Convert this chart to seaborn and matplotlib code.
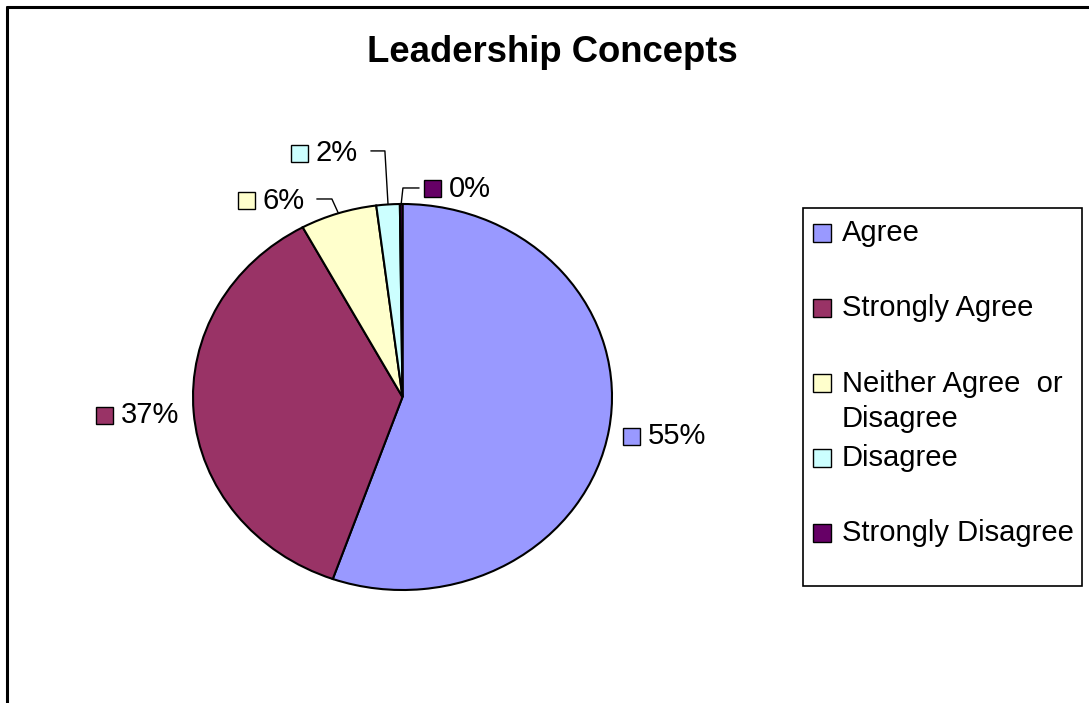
import matplotlib
matplotlib.use("Agg")
import numpy as np
import matplotlib.pyplot as plt
import seaborn as sns
from matplotlib.patches import Rectangle
from matplotlib.lines import Line2D
from matplotlib.offsetbox import AnnotationBbox, HPacker, TextArea, DrawingArea

# data
title = "Leadership Concepts"
categories = ["Agree", "Strongly Agree", "Neither Agree  or\nDisagree", "Disagree", "Strongly Disagree"]
shares = [55.4, 36.7, 5.9, 1.8, 0.2]
colors = ["#9999FF", "#993366", "#FFFFCC", "#CCFFFF", "#660066"]

sns.set_theme(style="white")
plt.rcParams["font.family"] = ["Liberation Sans", "DejaVu Sans"]
plt.rcParams["text.color"] = "black"

W, H = 1089, 703
fig = plt.figure(figsize=(W / 100, H / 100), dpi=100, facecolor="white")


def fx(px):
    return px / W


def fy(py):
    return 1 - py / H


# pie is slightly elliptical, like the Excel original
cx, cy, rx, ry = 402.5, 397, 209.5, 193
ax = fig.add_axes([fx(cx - rx), fy(cy + ry), 2 * rx / W, 2 * ry / H])
palette = sns.color_palette(colors)
wedges, _ = ax.pie(shares, colors=palette, startangle=90, counterclock=False,
                   wedgeprops=dict(edgecolor="black", linewidth=1.5))
ax.set_aspect("auto")
ax.set_xlim(-1, 1)
ax.set_ylim(-1, 1)
ax.axis("off")

# percentage labels (square marker + text)
pct_labels = [f"{round(s):.0f}%" for s in shares]
sq = 12.2  # points
manual_pos = {2: (-0.466, 1.016, "right"), 3: (-0.212, 1.264, "right"), 4: (0.103, 1.078, "left")}
leader_elbows = {2: [(-0.409, 1.026), (-0.337, 1.026)],
                 3: [(-0.151, 1.275), (-0.084, 1.275)],
                 4: [(0.079, 1.083), (0.002, 1.083)]}

for i, w in enumerate(wedges):
    mid = np.deg2rad((w.theta1 + w.theta2) / 2)
    if i in manual_pos:
        x, y, side = manual_pos[i]
        ex, ey = np.cos(mid), np.sin(mid)
        pts = leader_elbows[i] + [(ex, ey)]
        ax.plot([p[0] for p in pts], [p[1] for p in pts], color="black", lw=1, clip_on=False)
    else:
        x, y = 1.068 * np.cos(mid), 1.2 * np.sin(mid)
        side = "left" if np.cos(mid) > 0 else "right"
    da = DrawingArea(sq, sq, 0, 0)
    da.add_artist(Rectangle((0, 0), sq, sq, facecolor=colors[i], edgecolor="black", lw=1))
    ta = TextArea(pct_labels[i], textprops=dict(fontsize=21, color="black"))
    pack = HPacker(children=[da, ta], sep=5.5, align="center", pad=0)
    ab = AnnotationBbox(pack, (x, y), xycoords="data",
                        box_alignment=(0, 0.5) if side == "left" else (1, 0.5),
                        frameon=False, pad=0, annotation_clip=False)
    ax.add_artist(ab)

# title
fig.text(fx(552), fy(52), title, ha="center", va="center", fontsize=26.3,
         fontweight="bold", color="black")

# legend drawn by hand to match the Excel layout
fig.patches.append(Rectangle((fx(803), fy(586)), fx(1082) - fx(803), fy(208) - fy(586),
                             transform=fig.transFigure, facecolor="none",
                             edgecolor="black", lw=1.2))
for i, lab in enumerate(categories):
    yc = 233 + 75 * i
    fig.patches.append(Rectangle((fx(813), fy(yc + 9)), 18 / W, 18 / H,
                                 transform=fig.transFigure, facecolor=colors[i],
                                 edgecolor="black", lw=1))
    if "\n" in lab:
        fig.text(fx(842), fy(yc - 13), lab, ha="left", va="top", fontsize=21,
                 linespacing=1.3, color="black")
    else:
        fig.text(fx(842), fy(yc), lab, ha="left", va="center", fontsize=21, color="black")

# outer chart border (top and left visible)
fig.add_artist(Line2D([fx(6.5), 1.0], [fy(6.5), fy(6.5)], color="black", lw=2.2,
                      transform=fig.transFigure))
fig.add_artist(Line2D([fx(6.5), fx(6.5)], [fy(6.5), 0.0], color="black", lw=2.2,
                      transform=fig.transFigure))

fig.savefig("out.png", dpi=100, facecolor="white")
